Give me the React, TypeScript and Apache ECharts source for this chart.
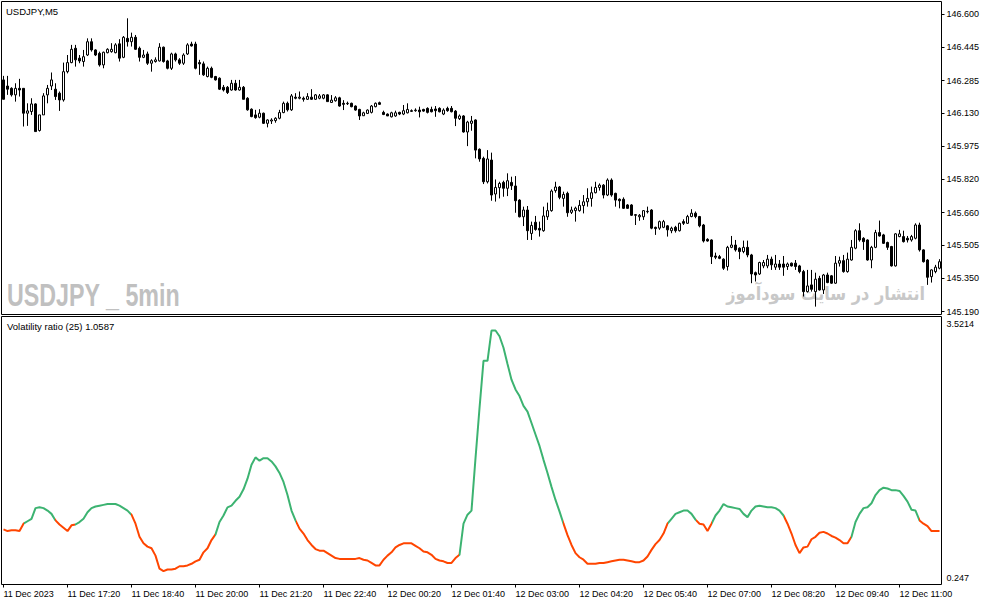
import React, { useEffect, useRef } from "react";
import * as echarts from "echarts";

const tickLabels = [
  "11 Dec 2023", "11 Dec 17:20", "11 Dec 18:40", "11 Dec 20:00", "11 Dec 21:20",
  "11 Dec 22:40", "12 Dec 00:20", "12 Dec 01:40", "12 Dec 03:00", "12 Dec 04:20",
  "12 Dec 05:40", "12 Dec 07:00", "12 Dec 08:20", "12 Dec 09:40", "12 Dec 11:00",
];
const priceLabels = [145.19, 145.35, 145.505, 145.66, 145.82, 145.975, 146.13, 146.285, 146.445, 146.6];
const indicatorLabels = [0.247, 3.5214];

const opens = [
  146.289, 146.260, 146.249, 146.218, 146.249, 146.249, 146.131, 146.139, 146.175, 146.049,
  146.123, 146.218, 146.260, 146.245, 146.226, 146.194, 146.328, 146.371, 146.439, 146.392,
  146.376, 146.407, 146.470, 146.431, 146.415, 146.360, 146.418, 146.423, 146.418, 146.460,
  146.396, 146.486, 146.470, 146.491, 146.439, 146.396, 146.412, 146.368, 146.376, 146.379,
  146.444, 146.379, 146.344, 146.412, 146.384, 146.368, 146.412, 146.459, 146.459, 146.371,
  146.365, 146.305, 146.344, 146.305, 146.297, 146.254, 146.254, 146.241, 146.273, 146.241,
  146.254, 146.202, 146.150, 146.123, 146.112, 146.131, 146.083, 146.094, 146.096, 146.107,
  146.134, 146.178, 146.147, 146.207, 146.202, 146.202, 146.197, 146.207, 146.197, 146.202,
  146.202, 146.218, 146.182, 146.190, 146.204, 146.178, 146.176, 146.178, 146.165, 146.149,
  146.119, 146.130, 146.135, 146.162, 146.181, 146.135, 146.127, 146.114, 146.118, 146.135,
  146.127, 146.133, 146.143, 146.143, 146.146, 146.149, 146.154, 146.149, 146.151, 146.154,
  146.127, 146.154, 146.154, 146.141, 146.105, 146.118, 146.042, 146.083, 146.099, 145.960,
  145.917, 145.806, 145.909, 145.748, 145.778, 145.803, 145.775, 145.803, 145.786, 145.719,
  145.640, 145.672, 145.561, 145.614, 145.585, 145.574, 145.640, 145.669, 145.764, 145.781,
  145.727, 145.751, 145.661, 145.669, 145.669, 145.693, 145.711, 145.727, 145.754, 145.779,
  145.790, 145.743, 145.814, 145.751, 145.723, 145.723, 145.696, 145.696, 145.650, 145.640,
  145.640, 145.664, 145.672, 145.590, 145.586, 145.590, 145.597, 145.574, 145.590, 145.574,
  145.617, 145.609, 145.641, 145.657, 145.641, 145.601, 145.533, 145.530, 145.454, 145.451,
  145.439, 145.404, 145.495, 145.506, 145.491, 145.475, 145.495, 145.459, 145.375, 145.369,
  145.407, 145.407, 145.439, 145.401, 145.416, 145.416, 145.404, 145.420, 145.420, 145.407,
  145.380, 145.285, 145.317, 145.285, 145.348, 145.293, 145.364, 145.360, 145.325, 145.420,
  145.432, 145.380, 145.435, 145.491, 145.574, 145.538, 145.530, 145.435, 145.495, 145.565,
  145.554, 145.518, 145.499, 145.407, 145.546, 145.546, 145.538, 145.530, 145.538, 145.601,
  145.483, 145.435, 145.356, 145.380, 145.396,
];
const closes = [
  146.197, 146.245, 146.218, 146.249, 146.241, 146.131, 146.142, 146.175, 146.044, 146.123,
  146.213, 146.249, 146.289, 146.210, 146.194, 146.328, 146.371, 146.434, 146.384, 146.379,
  146.399, 146.470, 146.431, 146.407, 146.360, 146.420, 146.434, 146.434, 146.455, 146.392,
  146.491, 146.470, 146.491, 146.434, 146.396, 146.407, 146.368, 146.380, 146.384, 146.444,
  146.376, 146.344, 146.412, 146.384, 146.368, 146.407, 146.455, 146.450, 146.344, 146.365,
  146.313, 146.344, 146.301, 146.289, 146.245, 146.241, 146.229, 146.273, 146.241, 146.254,
  146.197, 146.147, 146.115, 146.110, 146.131, 146.083, 146.099, 146.099, 146.107, 146.134,
  146.178, 146.147, 146.213, 146.202, 146.207, 146.197, 146.210, 146.197, 146.218, 146.213,
  146.218, 146.186, 146.193, 146.204, 146.165, 146.173, 146.178, 146.162, 146.146, 146.118,
  146.133, 146.146, 146.165, 146.178, 146.173, 146.125, 146.118, 146.133, 146.133, 146.127,
  146.143, 146.149, 146.140, 146.146, 146.138, 146.141, 146.135, 146.138, 146.143, 146.138,
  146.146, 146.143, 146.138, 146.107, 146.118, 146.042, 146.089, 146.094, 145.956, 145.914,
  145.806, 145.914, 145.743, 145.779, 145.798, 145.775, 145.811, 145.787, 145.716, 145.640,
  145.672, 145.574, 145.599, 145.580, 145.577, 145.644, 145.669, 145.762, 145.781, 145.732,
  145.746, 145.659, 145.672, 145.681, 145.694, 145.711, 145.727, 145.754, 145.779, 145.790,
  145.743, 145.814, 145.743, 145.719, 145.716, 145.680, 145.680, 145.647, 145.647, 145.647,
  145.669, 145.666, 145.586, 145.584, 145.617, 145.617, 145.578, 145.586, 145.574, 145.609,
  145.609, 145.641, 145.657, 145.641, 145.597, 145.525, 145.525, 145.451, 145.448, 145.443,
  145.396, 145.495, 145.506, 145.483, 145.475, 145.495, 145.459, 145.369, 145.364, 145.423,
  145.423, 145.439, 145.412, 145.416, 145.401, 145.401, 145.416, 145.407, 145.404, 145.380,
  145.285, 145.312, 145.296, 145.344, 145.293, 145.364, 145.328, 145.325, 145.420, 145.432,
  145.380, 145.439, 145.495, 145.574, 145.530, 145.522, 145.435, 145.495, 145.565, 145.549,
  145.514, 145.495, 145.407, 145.559, 145.559, 145.522, 145.530, 145.546, 145.601, 145.483,
  145.427, 145.353, 145.388, 145.401, 145.427,
];
const highs = [
  146.308, 146.308, 146.254, 146.273, 146.294, 146.249, 146.178, 146.202, 146.178, 146.123,
  146.226, 146.265, 146.324, 146.273, 146.234, 146.371, 146.407, 146.455, 146.455, 146.407,
  146.431, 146.486, 146.486, 146.434, 146.423, 146.423, 146.439, 146.463, 146.463, 146.482,
  146.497, 146.581, 146.513, 146.502, 146.447, 146.431, 146.423, 146.387, 146.396, 146.463,
  146.447, 146.384, 146.418, 146.418, 146.392, 146.415, 146.463, 146.470, 146.470, 146.384,
  146.376, 146.352, 146.352, 146.308, 146.301, 146.265, 146.260, 146.289, 146.289, 146.289,
  146.260, 146.207, 146.154, 146.147, 146.150, 146.134, 146.102, 146.107, 146.112, 146.147,
  146.186, 146.186, 146.222, 146.226, 146.234, 146.210, 146.226, 146.245, 146.222, 146.222,
  146.222, 146.221, 146.217, 146.212, 146.209, 146.193, 146.186, 146.181, 146.168, 146.152,
  146.138, 146.149, 146.170, 146.182, 146.186, 146.143, 146.130, 146.138, 146.143, 146.138,
  146.170, 146.178, 146.149, 146.154, 146.162, 146.152, 146.159, 146.162, 146.165, 146.159,
  146.154, 146.162, 146.165, 146.146, 146.125, 146.122, 146.095, 146.118, 146.102, 145.964,
  145.925, 145.956, 145.944, 145.817, 145.806, 145.811, 145.846, 145.830, 145.833, 145.723,
  145.688, 145.691, 145.617, 145.644, 145.617, 145.688, 145.707, 145.770, 145.806, 145.786,
  145.759, 145.759, 145.688, 145.688, 145.719, 145.743, 145.775, 145.783, 145.806, 145.798,
  145.795, 145.822, 145.822, 145.754, 145.727, 145.732, 145.700, 145.700, 145.653, 145.653,
  145.672, 145.688, 145.676, 145.593, 145.622, 145.625, 145.601, 145.593, 145.597, 145.612,
  145.628, 145.649, 145.676, 145.665, 145.644, 145.606, 145.538, 145.533, 145.470, 145.459,
  145.443, 145.502, 145.549, 145.530, 145.495, 145.527, 145.527, 145.464, 145.380, 145.427,
  145.435, 145.459, 145.451, 145.459, 145.435, 145.454, 145.423, 145.423, 145.435, 145.412,
  145.388, 145.388, 145.388, 145.375, 145.360, 145.369, 145.375, 145.364, 145.454, 145.451,
  145.459, 145.470, 145.530, 145.581, 145.609, 145.543, 145.533, 145.502, 145.578, 145.622,
  145.559, 145.522, 145.502, 145.562, 145.578, 145.574, 145.549, 145.554, 145.609, 145.612,
  145.486, 145.439, 145.391, 145.412, 145.439,
];
const lows = [
  146.197, 146.218, 146.210, 146.186, 146.210, 146.068, 146.071, 146.123, 146.044, 146.044,
  146.123, 146.178, 146.241, 146.194, 146.142, 146.186, 146.320, 146.368, 146.352, 146.368,
  146.352, 146.402, 146.423, 146.402, 146.352, 146.344, 146.415, 146.418, 146.415, 146.376,
  146.392, 146.447, 146.447, 146.431, 146.376, 146.392, 146.360, 146.328, 146.371, 146.376,
  146.371, 146.339, 146.336, 146.376, 146.360, 146.360, 146.407, 146.447, 146.339, 146.313,
  146.308, 146.301, 146.297, 146.286, 146.241, 146.234, 146.222, 146.238, 146.238, 146.238,
  146.197, 146.143, 146.112, 146.105, 146.107, 146.080, 146.064, 146.080, 146.086, 146.102,
  146.131, 146.139, 146.142, 146.197, 146.197, 146.186, 146.194, 146.194, 146.194, 146.197,
  146.197, 146.186, 146.181, 146.186, 146.162, 146.146, 146.170, 146.159, 146.143, 146.099,
  146.118, 146.127, 146.130, 146.159, 146.170, 146.122, 146.118, 146.111, 146.114, 146.122,
  146.122, 146.130, 146.137, 146.138, 146.111, 146.138, 146.130, 146.135, 146.114, 146.135,
  146.122, 146.138, 146.135, 146.070, 146.099, 146.039, 145.975, 146.048, 145.917, 145.901,
  145.795, 145.798, 145.716, 145.712, 145.727, 145.735, 145.738, 145.767, 145.659, 145.637,
  145.596, 145.530, 145.530, 145.574, 145.546, 145.569, 145.625, 145.664, 145.754, 145.723,
  145.688, 145.640, 145.653, 145.617, 145.664, 145.656, 145.688, 145.688, 145.751, 145.764,
  145.727, 145.738, 145.735, 145.688, 145.680, 145.677, 145.677, 145.644, 145.601, 145.621,
  145.625, 145.656, 145.581, 145.554, 145.578, 145.586, 145.546, 145.562, 145.565, 145.570,
  145.601, 145.606, 145.638, 145.633, 145.590, 145.518, 145.522, 145.416, 145.439, 145.439,
  145.388, 145.385, 145.491, 145.475, 145.439, 145.467, 145.448, 145.325, 145.333, 145.364,
  145.396, 145.396, 145.388, 145.388, 145.388, 145.360, 145.388, 145.404, 145.388, 145.372,
  145.262, 145.281, 145.285, 145.214, 145.290, 145.274, 145.325, 145.322, 145.322, 145.404,
  145.375, 145.375, 145.432, 145.486, 145.522, 145.483, 145.432, 145.396, 145.491, 145.546,
  145.511, 145.483, 145.404, 145.404, 145.543, 145.518, 145.518, 145.522, 145.533, 145.475,
  145.423, 145.317, 145.328, 145.372, 145.391,
];
const volatility = [
  0.92, 0.90, 0.91, 0.91, 0.90, 0.99, 1.02, 1.05, 1.18, 1.19,
  1.18, 1.15, 1.11, 1.03, 0.98, 0.94, 0.90, 0.97, 0.98, 1.01,
  1.05, 1.13, 1.18, 1.20, 1.21, 1.22, 1.23, 1.23, 1.23, 1.21,
  1.18, 1.15, 1.10, 0.99, 0.83, 0.75, 0.71, 0.69, 0.60, 0.44,
  0.41, 0.43, 0.43, 0.44, 0.47, 0.47, 0.48, 0.50, 0.53, 0.55,
  0.64, 0.69, 0.79, 0.86, 1.01, 1.09, 1.19, 1.21, 1.27, 1.32,
  1.41, 1.54, 1.71, 1.80, 1.76, 1.79, 1.79, 1.75, 1.69, 1.61,
  1.50, 1.34, 1.15, 1.03, 0.93, 0.87, 0.79, 0.73, 0.68, 0.66,
  0.66, 0.63, 0.60, 0.57, 0.56, 0.56, 0.56, 0.56, 0.56, 0.57,
  0.55, 0.54, 0.51, 0.48, 0.48, 0.55, 0.60, 0.64, 0.70, 0.73,
  0.75, 0.75, 0.75, 0.72, 0.69, 0.65, 0.64, 0.61, 0.56, 0.54,
  0.53, 0.51, 0.51, 0.57, 0.61, 0.99, 1.10, 1.15, 1.79, 2.40,
  2.98, 2.98, 3.35, 3.35, 3.28, 3.14, 2.94, 2.75, 2.63, 2.55,
  2.43, 2.36, 2.22, 2.08, 1.94, 1.77, 1.61, 1.44, 1.28, 1.14,
  0.99, 0.85, 0.73, 0.63, 0.58, 0.55, 0.50, 0.50, 0.50, 0.51,
  0.51, 0.52, 0.53, 0.54, 0.55, 0.55, 0.54, 0.53, 0.52, 0.52,
  0.54, 0.59, 0.67, 0.74, 0.79, 0.87, 0.99, 1.05, 1.11, 1.13,
  1.15, 1.15, 1.11, 1.04, 0.99, 0.98, 0.90, 0.99, 1.09, 1.15,
  1.23, 1.20, 1.19, 1.18, 1.17, 1.11, 1.07, 1.15, 1.20, 1.21,
  1.20, 1.19, 1.19, 1.18, 1.15, 1.09, 0.99, 0.87, 0.73, 0.63,
  0.70, 0.71, 0.80, 0.83, 0.88, 0.89, 0.87, 0.84, 0.82, 0.79,
  0.75, 0.75, 0.83, 1.01, 1.11, 1.18, 1.19, 1.24, 1.34, 1.40,
  1.43, 1.42, 1.40, 1.40, 1.39, 1.33, 1.26, 1.16, 1.15, 1.03,
  0.99, 0.96, 0.90, 0.90, 0.90,
];
// bar-index ranges where the indicator line is drawn green
const greenRanges = [
  [5, 12.9], [18, 31.9], [53, 72.8], [114.2, 139.8], [166, 173.2], [177.1, 195], [211.8, 229],
];

const GREEN = "#3cb371";
const RED = "#ff4500";
const FONT = "'Liberation Sans', Arial, sans-serif";

export default function App() {
  const ref = useRef<HTMLDivElement>(null);
  useEffect(() => {
    const chart = echarts.init(ref.current!, null, { renderer: "svg" });
    const categories = opens.map((_, i) => String(i));
    const candles = opens.map((o, i) => [o, closes[i], lows[i], highs[i]]);
    const pieces: any[] = [];
    let prev = -10;
    greenRanges.forEach(([a, b]) => {
      pieces.push({ gte: prev, lt: a, color: RED });
      pieces.push({ gte: a, lt: b, color: GREEN });
      prev = b;
    });
    pieces.push({ gte: prev, lte: 1000, color: RED });

    const showIdx = (idx: number) => idx % 16 === 0 && tickLabels[idx / 16] !== undefined;

    chart.setOption({
      animation: false,
      backgroundColor: "#fff",
      grid: [
        { left: 1.5, top: 1.5, width: 940, height: 313, show: true, borderColor: "#000", borderWidth: 1, backgroundColor: "#fff" },
        { left: 1.5, top: 316.5, width: 940, height: 268, show: true, borderColor: "#000", borderWidth: 1, backgroundColor: "#fff" },
      ],
      xAxis: [
        {
          type: "category", gridIndex: 0, data: categories, boundaryGap: true,
          axisLine: { show: false }, axisTick: { show: false }, axisLabel: { show: false }, splitLine: { show: false },
        },
        {
          type: "category", gridIndex: 1, data: categories, boundaryGap: true,
          axisLine: { show: false },
          axisTick: { show: true, interval: showIdx, alignWithLabel: true, length: 3, lineStyle: { color: "#000" } },
          axisLabel: {
            interval: showIdx, align: "left", margin: 5, color: "#000", fontSize: 9, fontFamily: FONT,
            formatter: (_v: string, idx: number) => tickLabels[idx / 16] ?? "",
          },
          splitLine: { show: false },
        },
      ],
      yAxis: [
        {
          type: "value", gridIndex: 0, position: "right", min: 145.1766, max: 146.6607, scale: true,
          axisLine: { show: false },
          axisTick: { show: true, length: 3, customValues: priceLabels, lineStyle: { color: "#000" } },
          axisLabel: {
            customValues: priceLabels, margin: 5, color: "#000", fontSize: 9, fontFamily: FONT,
            formatter: (v: number) => v.toFixed(3),
          },
          splitLine: { show: false },
        },
        {
          type: "value", gridIndex: 1, position: "right", min: 0.247, max: 3.5214, scale: true,
          axisLine: { show: false },
          axisTick: { show: false },
          axisLabel: {
            customValues: indicatorLabels, margin: 5, color: "#000", fontSize: 9, fontFamily: FONT,
            verticalAlignMinLabel: "bottom", verticalAlignMaxLabel: "top",
            padding: [3, 0, 2, 0],
            formatter: (v: number) => String(v),
          },
          splitLine: { show: false },
        },
      ],
      visualMap: {
        type: "piecewise", show: false, dimension: 0, seriesIndex: 1, pieces,
      },
      series: [
        {
          type: "candlestick", xAxisIndex: 0, yAxisIndex: 0, data: candles, barWidth: 2,
          itemStyle: {
            color: "#fff", color0: "#000", borderColor: "#000", borderColor0: "#000",
            borderColorDoji: "#000", borderWidth: 1,
          },
          z: 5,
        },
        {
          type: "line", xAxisIndex: 1, yAxisIndex: 1, data: volatility, showSymbol: false,
          symbol: "none", lineStyle: { width: 2 }, z: 5,
        },
      ],
      graphic: [
        {
          type: "text", x: 7, y: 280, scaleX: 0.75, z: 0, silent: true,
          style: {
            text: "USDJPY _ 5min", fill: "#c0c0c0", fontSize: 31, fontWeight: "bold",
            fontFamily: "'Liberation Sans', Arial, sans-serif", align: "left", verticalAlign: "top",
          },
        },
        {
          type: "text", x: 925, y: 284, scaleX: 0.85, z: 0, silent: true,
          style: {
            text: "انتشار در سایت سودآموز", fill: "#c8c8c8", fontSize: 19, fontWeight: "bold",
            fontFamily: "'DejaVu Sans', sans-serif", align: "right", verticalAlign: "top",
          },
        },
        {
          type: "text", left: 6, top: 6, z: 10, silent: true,
          style: { text: "USDJPY,M5", fill: "#000", fontSize: 9.5, fontFamily: FONT },
        },
        {
          type: "text", left: 7, top: 321, z: 10, silent: true,
          style: { text: "Volatility ratio (25) 1.0587", fill: "#000", fontSize: 9.5, fontFamily: FONT },
        },
      ],
    });
    return () => chart.dispose();
  }, []);
  return <div ref={ref} style={{ position: "fixed", left: 0, top: 0, width: 987, height: 605, background: "#fff" }} />;
}
